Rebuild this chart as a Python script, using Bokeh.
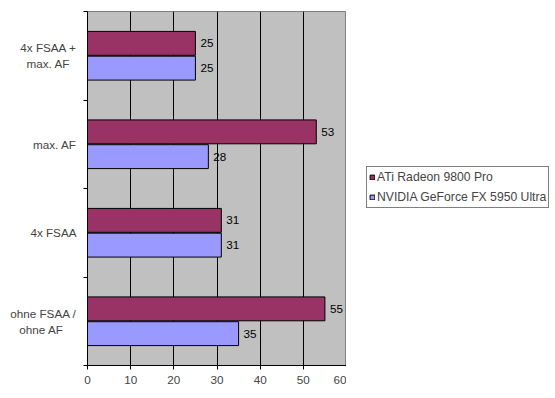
from bokeh.plotting import figure
from bokeh.layouts import row
from bokeh.models import ColumnDataSource, FixedTicker, Range1d, Legend, LegendItem
from bokeh.core.properties import value
from bokeh.embed import file_html
from bokeh.resources import INLINE

NB = "\u00a0"
categories = ["ohne FSAA /\nohne AF" + NB * 4, "4x FSAA", "max. AF", "4x FSAA +\nmax. AF" + NB * 2]
ati = [55, 31, 53, 25]
nvidia = [35, 31, 28, 25]
series_names = ["ATi Radeon 9800 Pro", "NVIDIA GeForce FX 5950 Ultra"]
series_colors = ["#993366", "#9999FF"]
x_ticks = [0, 10, 20, 30, 40, 50, 60]

FONT = "Liberation Sans"
FS = "11.7px"
pos = [i + 0.5 for i in range(len(categories))]
src = ColumnDataSource(dict(
    y_ati=[p_ + 0.14 for p_ in pos], y_nv=[p_ - 0.14 for p_ in pos],
    ati=ati, nv=nvidia,
    ati_t=[str(v) for v in ati], nv_t=[str(v) for v in nvidia],
))

p = figure(frame_width=259, frame_height=354, output_backend="svg", toolbar_location=None,
           x_range=Range1d(0, 60), y_range=Range1d(0, 4),
           min_border_left=87, min_border_right=0, min_border_top=11, min_border_bottom=31)
p.background_fill_color = "#C0C0C0"
p.border_fill_color = "white"
p.outline_line_color = "#808080"

r1 = p.hbar(y="y_ati", left=0, right="ati", height=0.27, source=src,
            fill_color=series_colors[0], line_color="black", line_width=1)
r2 = p.hbar(y="y_nv", left=0, right="nv", height=0.27, source=src,
            fill_color=series_colors[1], line_color="black", line_width=1)
for ycol, xcol, tcol in [("y_ati", "ati", "ati_t"), ("y_nv", "nv", "nv_t")]:
    p.text(x=xcol, y=ycol, text=tcol, source=src, x_offset=5,
           text_font=value(FONT), text_font_size=FS, text_color="black",
           text_baseline="middle", text_align="left")

# x axis
p.xaxis.ticker = FixedTicker(ticks=x_ticks)
p.xaxis.axis_line_color = "black"
p.xaxis.major_tick_out = 4
p.xaxis.major_tick_in = 0
p.xaxis.minor_tick_line_color = None
p.xaxis.major_label_text_font = FONT
p.xaxis.major_label_text_font_size = FS
p.xaxis.major_label_standoff = 6

# y axis
p.yaxis.ticker = FixedTicker(ticks=pos, minor_ticks=list(range(len(categories) + 1)))
p.yaxis.major_label_overrides = {pv: c for pv, c in zip(pos, categories)}
p.yaxis.axis_line_color = "black"
p.yaxis.major_tick_out = 0
p.yaxis.major_tick_in = 0
p.yaxis.minor_tick_out = 4
p.yaxis.minor_tick_in = 0
p.yaxis.minor_tick_line_color = "black"
p.yaxis.major_label_text_font = FONT
p.yaxis.major_label_text_font_size = FS
p.yaxis.major_label_standoff = 7

p.xgrid.ticker = FixedTicker(ticks=x_ticks)
p.xgrid.grid_line_color = "black"
p.ygrid.grid_line_color = None

# legend panel to the right of the chart (its bars lie outside its visible ranges)
q = figure(width=207, height=396, output_backend="svg", toolbar_location=None,
           x_axis_type=None, y_axis_type=None,
           x_range=Range1d(-2, -1), y_range=Range1d(-2, -1),
           min_border_left=0, min_border_right=0, min_border_top=0, min_border_bottom=0)
q.outline_line_color = None
q.background_fill_color = "white"
q.border_fill_color = "white"
lr1 = q.hbar(y="y_ati", left=0, right="ati", height=0.27, source=src,
             fill_color=series_colors[0], line_color="black")
lr2 = q.hbar(y="y_nv", left=0, right="nv", height=0.27, source=src,
             fill_color=series_colors[1], line_color="black")

legend = Legend(items=[LegendItem(label=series_names[0], renderers=[lr1]),
                       LegendItem(label=series_names[1], renderers=[lr2])],
                location=(20, 157), orientation="vertical",
                glyph_width=6, glyph_height=6, label_standoff=2,
                label_height=16, spacing=4, padding=2, margin=0,
                label_text_font=FONT, label_text_font_size="12.2px",
                border_line_color="black", background_fill_color="white",
                background_fill_alpha=1)
q.add_layout(legend, "center")

layout = row(p, q)
open("out.html", "w").write(file_html(layout, INLINE))
